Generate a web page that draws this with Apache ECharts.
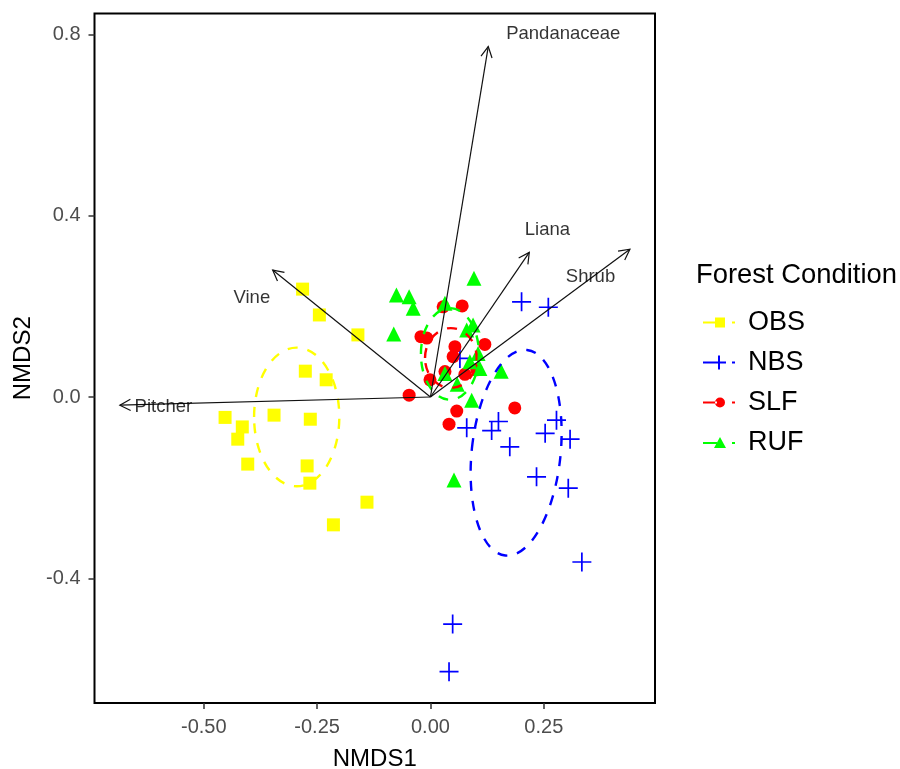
<!DOCTYPE html>
<html>
<head>
<meta charset="utf-8">
<title>NMDS biplot</title>
<script src="https://cdn.jsdelivr.net/npm/echarts@6/dist/echarts.min.js"></script>
<style>
  html, body { margin: 0; padding: 0; background: #fff; }
  #chart { width: 900px; height: 769px; }
</style>
</head>
<body>
<div id="chart"></div>
<script>
// site scores [NMDS1, NMDS2] for each forest condition
const obsPoints = [
    [-0.282, 0.238], [-0.245, 0.181], [-0.160, 0.137], [-0.276, 0.057], [-0.230, 0.038],
    [-0.345, -0.040], [-0.265, -0.049], [-0.453, -0.045], [-0.415, -0.066], [-0.425, -0.093],
    [-0.403, -0.148], [-0.272, -0.152], [-0.266, -0.190], [-0.140, -0.232], [-0.214, -0.282],
]
const nbsPoints = [
    [0.201, 0.210], [0.260, 0.198], [0.065, 0.085], [0.080, -0.068], [0.135, -0.074],
    [0.150, -0.054], [0.175, -0.110], [0.253, -0.080], [0.278, -0.051], [0.308, -0.093],
    [0.234, -0.176], [0.304, -0.201], [0.334, -0.364], [0.049, -0.501], [0.041, -0.606],
]
const slfPoints = [
    [0.028, 0.199], [0.070, 0.201], [-0.021, 0.133], [-0.008, 0.130], [0.054, 0.111],
    [0.120, 0.116], [0.050, 0.089], [0.102, 0.060], [0.076, 0.050], [0.032, 0.056],
    [-0.001, 0.038], [-0.047, 0.004], [0.058, -0.031], [0.041, -0.060], [0.186, -0.024],
]
const rufPoints = [
    [-0.075, 0.225], [-0.047, 0.221], [-0.038, 0.196], [-0.081, 0.139], [0.032, 0.207],
    [0.096, 0.262], [0.094, 0.159], [0.080, 0.148], [0.105, 0.096], [0.087, 0.078],
    [0.109, 0.063], [0.156, 0.057], [0.059, 0.028], [0.032, 0.052], [0.091, -0.007],
    [0.052, -0.183],
]

const groupNames = ['OBS', 'NBS', 'SLF', 'RUF']
const groupColors = ['#ffff00', '#0000ff', '#ff0000', '#00ff00']

// group ellipses: [centre x, centre y, half width, half height, tilt in degrees]
const groupEllipses = [
    [-0.295, -0.044, 0.094, 0.153, 0],
    [0.189, -0.123, 0.098, 0.228, -6],
    [0.045, 0.086, 0.057, 0.066, 0],
    [0.043, 0.095, 0.064, 0.101, 0],
]

// fitted vectors
const vectorNames = ['Pandanaceae', 'Liana', 'Shrub', 'Vine', 'Pitcher']
const vectorEnds = [[0.1275, 0.773], [0.218, 0.319], [0.440, 0.326], [-0.348, 0.280], [-0.685, -0.018]]
const vectorLabelPos = [[0.293, 0.801], [0.258, 0.368], [0.353, 0.265], [-0.394, 0.218], [-0.589, -0.021]]

const xTicks = [-0.5, -0.25, 0, 0.25]
const yTicks = [-0.4, 0, 0.4, 0.8]

const pointSets = [obsPoints, nbsPoints, slfPoints, rufPoints]
const crossPath = 'path://M-0.9,-10h1.8v20h-1.8z M-10,-0.9h20v1.8h-20z'
const pointSymbols = ['rect', crossPath, 'circle', 'triangle']
const pointSizes = [13, 19, 13, 15]

const legendIcons = [
    'path://M0,6h14v2H0z M12,2h10v10h-10z M29,6h3v2h-3z',
    'path://M0,6h23v2H0z M15,0h2v14h-2z M29,6h3v2h-3z',
    'path://M0,6h14v2H0z M12,7a5,5 0 1,0 10,0a5,5 0 1,0 -10,0z M29,6h3v2h-3z',
    'path://M0,6h14v2H0z M17,1L23,12H11z M29,6h3v2h-3z',
]

const font = 'Liberation Sans, Arial, sans-serif'

const pointSeries = groupNames.map((name, i) => ({
    name,
    type: 'scatter',
    data: pointSets[i],
    symbol: pointSymbols[i],
    symbolSize: pointSizes[i],
    itemStyle: { color: groupColors[i], opacity: 1 },
    emphasis: { disabled: true },
    z: 3,
}))

const ellipseSeries = groupNames.map((name, i) => ({
    name: name + ' ellipse',
    type: 'custom',
    data: [groupEllipses[i]],
    z: 4,
    silent: true,
    renderItem(params, api) {
        const c = api.coord([api.value(0), api.value(1)])
        const s = api.size([api.value(2), api.value(3)])
        return {
            type: 'ellipse',
            x: c[0],
            y: c[1],
            rotation: api.value(4) * Math.PI / 180,
            shape: { cx: 0, cy: 0, rx: s[0], ry: s[1] },
            style: { fill: 'none', stroke: groupColors[i], lineWidth: 2.4, lineDash: [10, 10] },
        }
    },
}))

const arrowSeries = {
    name: 'vectors',
    type: 'custom',
    data: vectorEnds,
    z: 5,
    silent: true,
    renderItem(params, api) {
        const p0 = api.coord([0, 0])
        const p1 = api.coord([api.value(0), api.value(1)])
        const ang = Math.atan2(p1[1] - p0[1], p1[0] - p0[0])
        const len = 12
        const spread = Math.PI / 6.5
        const h1 = [p1[0] - len * Math.cos(ang - spread), p1[1] - len * Math.sin(ang - spread)]
        const h2 = [p1[0] - len * Math.cos(ang + spread), p1[1] - len * Math.sin(ang + spread)]
        const style = { stroke: '#111', lineWidth: 1.2, fill: 'none' }
        return {
            type: 'group',
            children: [
                { type: 'line', shape: { x1: p0[0], y1: p0[1], x2: p1[0], y2: p1[1] }, style },
                { type: 'polyline', shape: { points: [h1, p1, h2] }, style },
            ],
        }
    },
}

const labelSeries = {
    name: 'vector labels',
    type: 'scatter',
    data: vectorNames.map((n, i) => ({ name: n, value: vectorLabelPos[i] })),
    symbolSize: 0,
    silent: true,
    z: 6,
    label: {
        show: true,
        position: 'inside',
        formatter: '{b}',
        color: '#000',
        fontFamily: font,
        fontSize: 18.5,
    },
}

const chart = echarts.init(document.getElementById('chart'), null, { renderer: 'canvas' })

chart.setOption({
    animation: false,
    backgroundColor: '#fff',
    title: {
        text: 'Forest Condition',
        left: 691,
        top: 257,
        textStyle: { fontFamily: font, fontSize: 27.4, fontWeight: 'normal', color: '#000' },
    },
    legend: {
        orient: 'vertical',
        left: 698,
        top: 304,
        itemWidth: 32,
        itemHeight: 14,
        itemGap: 13,
        selectedMode: false,
        data: groupNames.map((n, i) => ({ name: n, icon: legendIcons[i] })),
        textStyle: { fontFamily: font, fontSize: 27, color: '#000', lineHeight: 27, padding: [0, 0, 0, 8] },
    },
    grid: {
        left: 94.5,
        right: 245,
        top: 13.5,
        bottom: 66,
        outerBoundsMode: 'none',
        containLabel: false,
        show: true,
        borderColor: '#000',
        borderWidth: 2,
        backgroundColor: '#fff',
    },
    xAxis: {
        type: 'value',
        min: -0.741,
        max: 0.4953,
        name: 'NMDS1',
        nameLocation: 'middle',
        nameGap: 44,
        nameTextStyle: { fontFamily: font, fontSize: 24, color: '#000' },
        axisLine: { show: false, onZero: false },
        splitLine: { show: false },
        axisTick: { show: true, length: 6, lineStyle: { color: '#333', width: 1.5 }, customValues: xTicks },
        axisLabel: {
            customValues: xTicks,
            margin: 14,
            fontFamily: font,
            fontSize: 20,
            color: '#4d4d4d',
            formatter: v => v.toFixed(2),
        },
    },
    yAxis: {
        type: 'value',
        min: -0.675,
        max: 0.846,
        name: 'NMDS2',
        nameLocation: 'middle',
        nameRotate: 90,
        nameGap: 55,
        nameTextStyle: { fontFamily: font, fontSize: 24, color: '#000' },
        axisLine: { show: false, onZero: false },
        splitLine: { show: false },
        axisTick: { show: true, length: 6, lineStyle: { color: '#333', width: 1.5 }, customValues: yTicks },
        axisLabel: {
            customValues: yTicks,
            margin: 14,
            fontFamily: font,
            fontSize: 20,
            color: '#4d4d4d',
            formatter: v => v.toFixed(1),
        },
    },
    series: [...pointSeries, ...ellipseSeries, arrowSeries, labelSeries],
})
</script>
</body>
</html>
